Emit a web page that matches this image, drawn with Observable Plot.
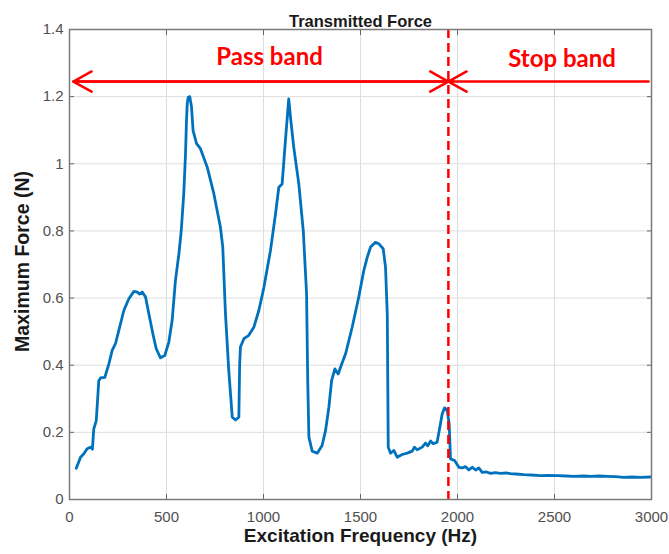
<!DOCTYPE html>
<html>
<head>
<meta charset="utf-8">
<script src="https://cdn.jsdelivr.net/npm/d3@7"></script>
<script src="https://cdn.jsdelivr.net/npm/@observablehq/plot@0.6"></script>
<style>
  body { margin: 0; background: #fff; }
  #chart svg { display: block; }
</style>
</head>
<body>
<div id="chart"></div>
<script>
// ---- data ----
const freq = [35,57,74,91,108,118,125,138,151,160,182,203,220,237,254,280,306,332,349,360,375,392,409,430,447,469,491,512,529,546,564,576,589,598,603,607,612,620,629,637,655,675,710,744,778,790,804,821,839,856,873,877,881,899,924,950,976,1002,1036,1062,1079,1096,1113,1130,1139,1156,1182,1205,1222,1228,1234,1251,1277,1302,1320,1337,1351,1368,1385,1397,1423,1457,1491,1517,1535,1552,1577,1594,1617,1629,1638,1643,1655,1672,1689,1715,1741,1767,1778,1792,1818,1835,1847,1861,1875,1895,1909,1921,1933,1947,1957,1964,1985,2007,2024,2041,2058,2076,2093,2110,2127,2150,2170,2195,2222,2250,2273,2300,2342,2380,2428,2470,2514,2560,2600,2650,2686,2730,2772,2815,2857,2900,2943,2995];
const force = [0.093,0.126,0.136,0.151,0.156,0.150,0.21,0.235,0.354,0.362,0.364,0.404,0.444,0.464,0.503,0.563,0.598,0.62,0.618,0.612,0.618,0.603,0.553,0.493,0.449,0.422,0.429,0.469,0.533,0.652,0.732,0.801,0.911,1.03,1.129,1.18,1.198,1.2,1.169,1.099,1.06,1.045,0.99,0.911,0.811,0.752,0.553,0.384,0.245,0.237,0.245,0.40,0.454,0.479,0.489,0.513,0.563,0.632,0.742,0.851,0.93,0.94,1.069,1.193,1.139,1.049,0.94,0.801,0.613,0.354,0.186,0.144,0.138,0.161,0.206,0.275,0.354,0.389,0.374,0.394,0.434,0.513,0.603,0.682,0.722,0.752,0.766,0.762,0.747,0.692,0.553,0.156,0.138,0.146,0.126,0.134,0.138,0.144,0.156,0.148,0.156,0.168,0.16,0.174,0.166,0.171,0.215,0.255,0.273,0.267,0.225,0.121,0.116,0.096,0.094,0.098,0.088,0.096,0.088,0.094,0.081,0.082,0.078,0.080,0.078,0.079,0.077,0.076,0.074,0.073,0.071,0.072,0.071,0.070,0.069,0.070,0.069,0.070,0.069,0.068,0.066,0.067,0.066,0.067];

const xTicks = [0, 500, 1000, 1500, 2000, 2500, 3000];
const xTickLabels = ["0", "500", "1000", "1500", "2000", "2500", "3000"];
const yTicks = [0, 0.2, 0.4, 0.6, 0.8, 1, 1.2, 1.4];
const yTickLabels = ["0", "0.2", "0.4", "0.6", "0.8", "1", "1.2", "1.4"];

const titleText = "Transmitted Force";
const xLabel = "Excitation Frequency (Hz)";
const yLabel = "Maximum Force (N)";

// annotation (data units)
const bandEdge = 1953;          // boundary between pass and stop band
const arrowY = 1.245;
const arrowStarts = [1953, 20, 2985];
const arrowEnds   = [20, 1953, 1953];
const bandLabels = ["Pass band", "Stop band"];
const bandLabelX = [1031, 2539];
const bandLabelY = [1.316, 1.31];

// ---- tables built from the arrays ----
const series = freq.map((f, i) => ({f, v: force[i]}));
const arrows = arrowStarts.map((s, i) => ({x1: s, x2: arrowEnds[i], y: arrowY}));
const bandText = bandLabels.map((t, i) => ({t, x: bandLabelX[i], y: bandLabelY[i]}));

const red = "#ff0000";
const blue = "#0072BD";
const annFont = "Lato, 'Open Sans', sans-serif";

const chart = Plot.plot({
  width: 669,
  height: 554,
  marginLeft: 69,
  marginRight: 18,
  marginTop: 29,
  marginBottom: 55,
  style: {fontFamily: "'Liberation Sans', Arial, sans-serif", fontSize: "15px", color: "#505050", background: "#fff"},
  x: {domain: [0, 3000]},
  y: {domain: [0, 1.4]},
  marks: [
    Plot.gridX(xTicks, {stroke: "#dedede", strokeOpacity: 1, strokeWidth: 1}),
    Plot.gridY(yTicks, {stroke: "#dedede", strokeOpacity: 1, strokeWidth: 1}),
    // tick labels
    Plot.axisX(xTicks, {anchor: "bottom", tickSize: 0, tickPadding: 12, label: null, fill: "#505050",
      tickFormat: (d) => xTickLabels[xTicks.indexOf(d)]}),
    Plot.axisY(yTicks, {anchor: "left", tickSize: 0, tickPadding: 6, label: null, fill: "#505050",
      tickFormat: (d) => yTickLabels[yTicks.indexOf(d)]}),
    // inward tick marks on all sides
    Plot.axisX(xTicks, {anchor: "bottom", tickSize: -5, tickFormat: () => "", label: null, stroke: "#666"}),
    Plot.axisX(xTicks, {anchor: "top", tickSize: -5, tickFormat: () => "", label: null, stroke: "#666"}),
    Plot.axisY(yTicks, {anchor: "left", tickSize: -5, tickFormat: () => "", label: null, stroke: "#666"}),
    Plot.axisY(yTicks, {anchor: "right", tickSize: -5, tickFormat: () => "", label: null, stroke: "#666"}),
    // data line
    Plot.line(series, {x: "f", y: "v", stroke: blue, strokeWidth: 2.8, strokeLinejoin: "round", strokeLinecap: "round"}),
    // annotations
    Plot.ruleX([bandEdge], {stroke: red, strokeWidth: 2.5, strokeDasharray: "9,5"}),
    Plot.arrow(arrows, {x1: "x1", x2: "x2", y1: "y", y2: "y", stroke: red, strokeWidth: 2.5, headLength: 12.5, headAngle: 58}),
    Plot.text(bandText, {x: "x", y: "y", text: "t", fill: red, fontSize: 24, fontWeight: "bold", fontFamily: annFont}),
    Plot.frame({stroke: "#7a7a7a", strokeWidth: 1.5}),
    // titles
    Plot.text([titleText], {frameAnchor: "top", textAnchor: "middle", dy: -14, fontSize: 16.5, fontWeight: "bold", fill: "#1a1a1a"}),
    Plot.text([xLabel], {frameAnchor: "bottom", textAnchor: "middle", dy: 42.5, fontSize: 19, fontWeight: "bold", fill: "#1a1a1a"}),
    Plot.text([yLabel], {frameAnchor: "left", textAnchor: "middle", dx: -47, dy: -3, rotate: -90, fontSize: 19.5, fontWeight: "bold", fill: "#1a1a1a"})
  ]
});
document.getElementById("chart").appendChild(chart);
</script>
</body>
</html>
